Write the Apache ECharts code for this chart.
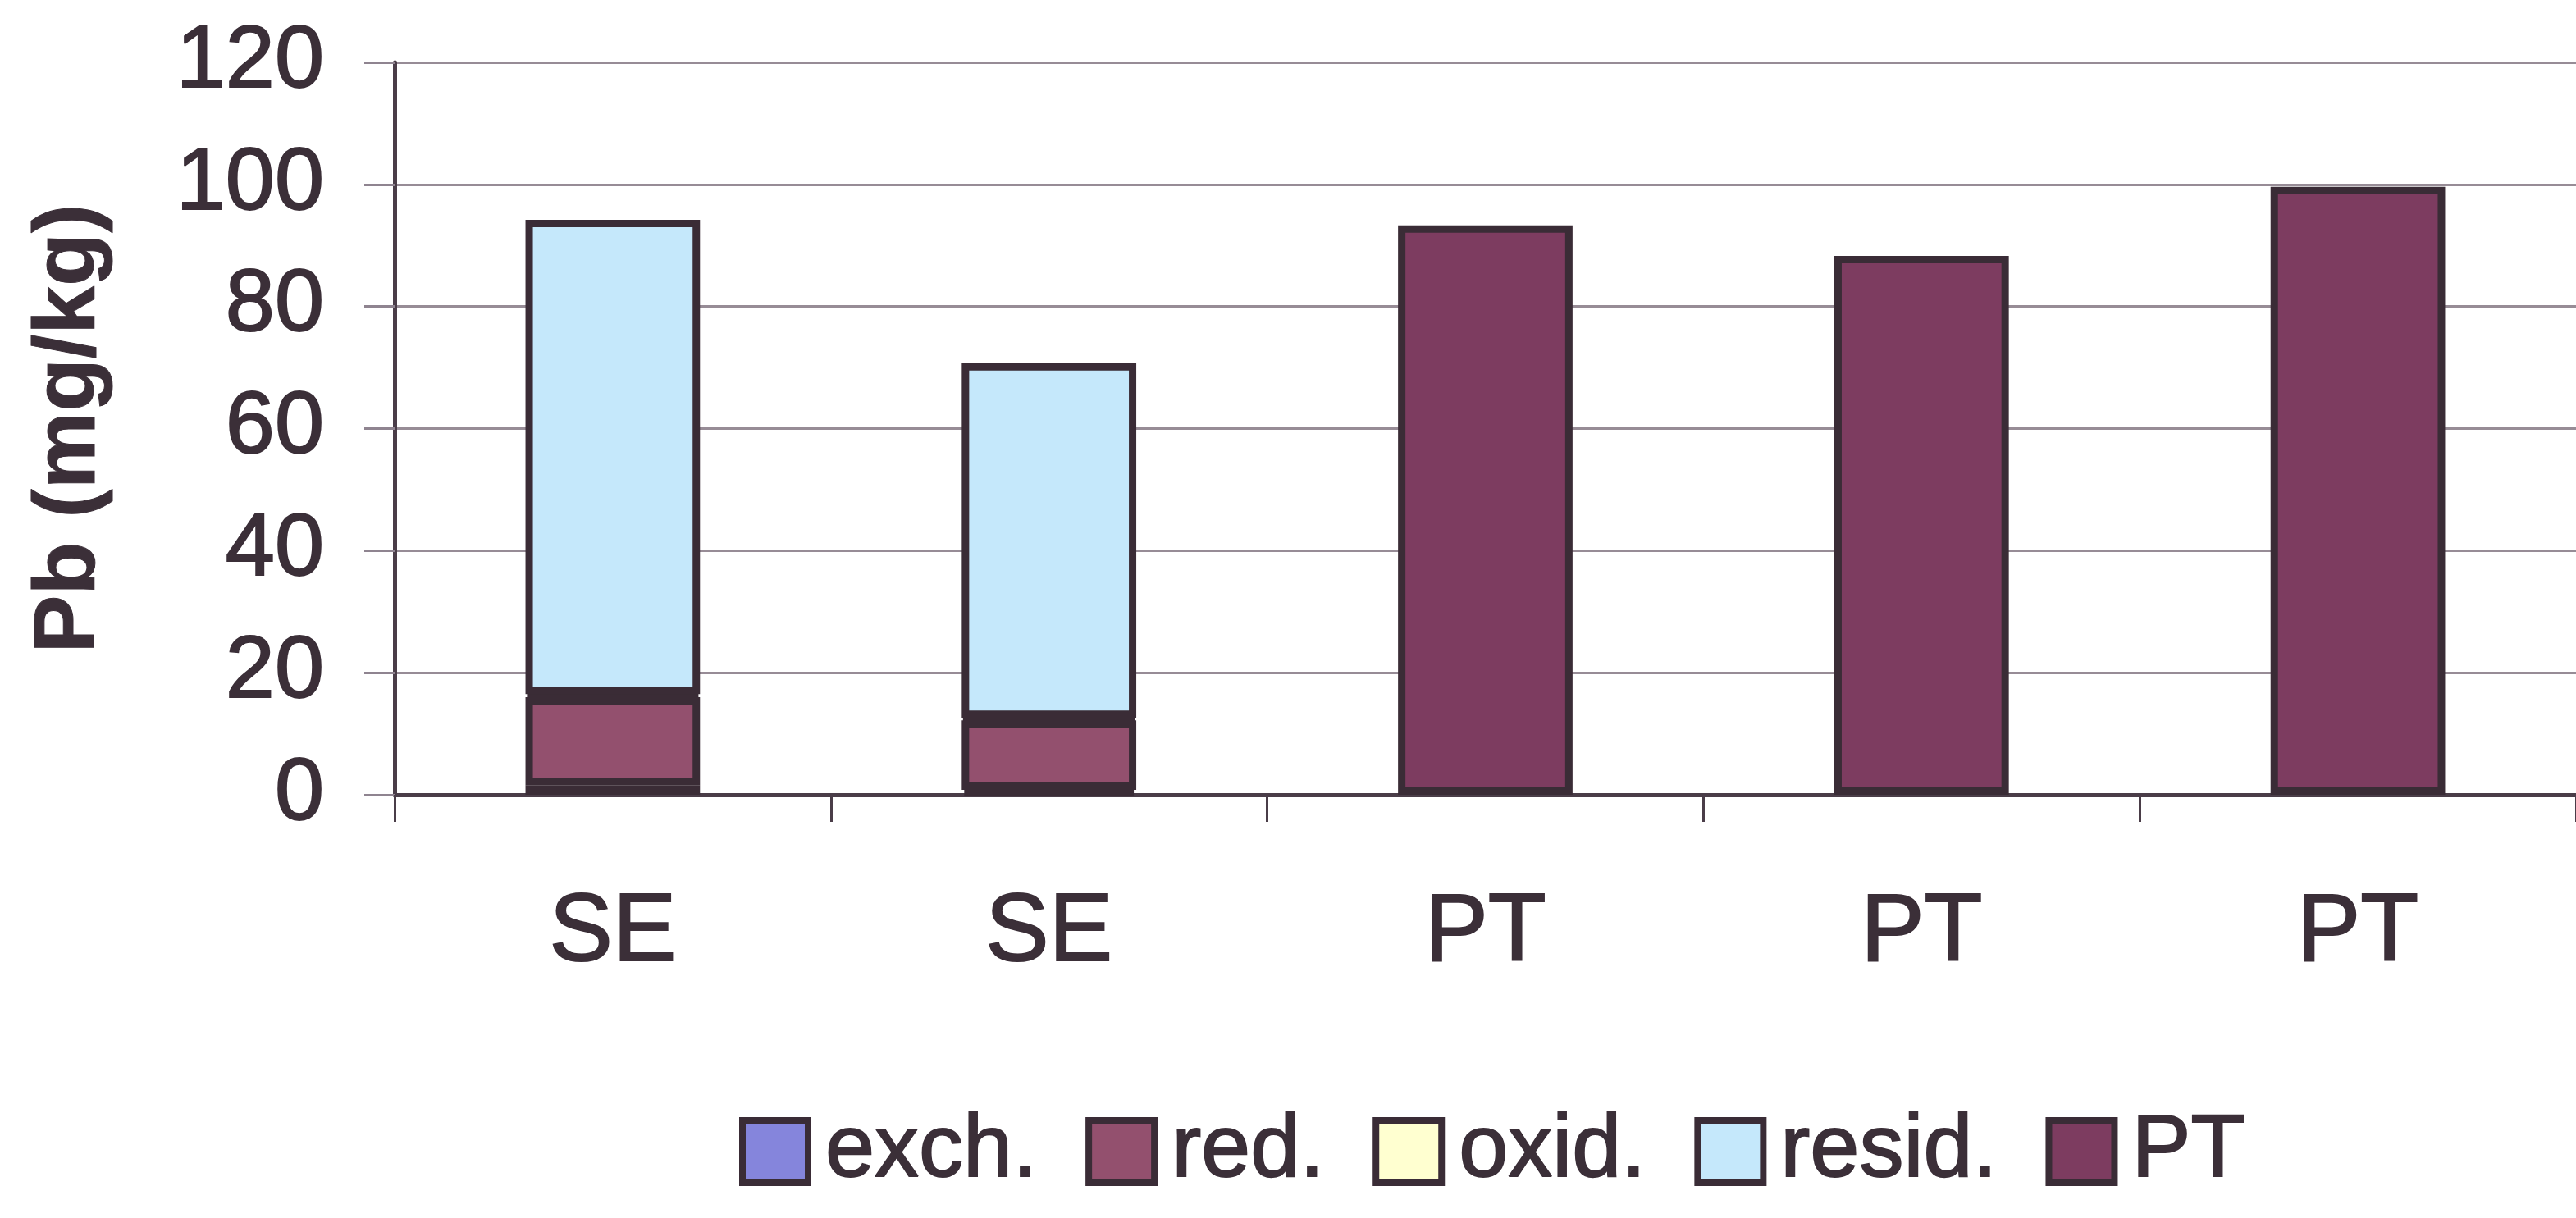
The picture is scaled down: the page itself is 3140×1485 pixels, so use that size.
<!DOCTYPE html>
<html>
<head>
<meta charset="utf-8">
<script src="https://cdn.jsdelivr.net/npm/echarts@6/dist/echarts.min.js"></script>
<style>
  html, body { margin: 0; padding: 0; background: #ffffff; }
  #chart { width: 3140px; height: 1485px; }
</style>
</head>
<body>
<div id="chart"></div>
<script>
// Pb fractions (mg/kg) per sample: sequential extraction (SE) vs. total (PT)
const categories = ['SE', 'SE', 'PT', 'PT', 'PT'];
const exchValues = [1.5, 0.8, null, null, null];
const redValues = [14.5, 11.4, null, null, null];
const oxidValues = [0.5, 0.4, null, null, null];
const residValues = [77.7, 58.1, null, null, null];
const ptValues = [null, null, 93.3, 88.3, 99.6];
const yTicks = { min: 0, max: 120, interval: 20 };

const textColor = '#3b2f38';
const edgeColor = '#3a2c36';
const fontFamily = '"Liberation Sans", Arial, sans-serif';

// slightly heavier strokes for all labels
function labelText(size, extra) {
  return Object.assign({
    color: textColor,
    fontSize: size,
    fontFamily: fontFamily,
    textBorderColor: textColor,
    textBorderWidth: 2
  }, extra || {});
}

function stackedBar(name, data, fill) {
  return {
    name: name,
    type: 'bar',
    stack: 'total',
    data: data,
    barWidth: '40%',
    itemStyle: { color: fill, borderColor: edgeColor, borderWidth: 9 },
    emphasis: { disabled: true }
  };
}

const chart = echarts.init(document.getElementById('chart'), null, { renderer: 'canvas' });
chart.setOption({
  backgroundColor: '#ffffff',
  animation: false,
  grid: { left: 481, top: 76, bottom: 516, right: -26, containLabel: false },
  legend: {
    left: 896,
    top: 1344,
    itemWidth: 80,
    itemHeight: 76,
    itemGap: 58,
    icon: 'rect',
    itemStyle: { borderColor: edgeColor, borderWidth: 8 },
    textStyle: labelText(108, { padding: [0, 0, 0, 16] }),
    data: ['exch.', 'red.', 'oxid.', 'resid.', 'PT']
  },
  xAxis: {
    type: 'category',
    data: categories,
    boundaryGap: true,
    axisLine: { lineStyle: { color: '#4a3d48', width: 5 } },
    axisTick: { show: true, length: 33, lineStyle: { color: '#4a3d48', width: 3 } },
    axisLabel: labelText(116, { margin: 112 })
  },
  yAxis: {
    type: 'value',
    min: yTicks.min,
    max: yTicks.max,
    interval: yTicks.interval,
    name: 'Pb (mg/kg)',
    nameLocation: 'middle',
    nameRotate: 90,
    nameGap: 342,
    nameTextStyle: labelText(106, { fontWeight: 'bold', textBorderWidth: 1 }),
    axisLine: { show: true, lineStyle: { color: '#4a3d48', width: 5 } },
    axisTick: { show: true, length: 37, lineStyle: { color: '#8f8490', width: 3 } },
    axisLabel: labelText(108, { margin: 86 }),
    splitLine: { show: true, lineStyle: { color: '#978c96', width: 3 } }
  },
  series: [
    stackedBar('exch.', exchValues, '#8585dc'),
    stackedBar('red.', redValues, '#93506e'),
    stackedBar('oxid.', oxidValues, '#ffffd0'),
    stackedBar('resid.', residValues, '#c5e8fb'),
    stackedBar('PT', ptValues, '#7d3c60')
  ]
});
</script>
</body>
</html>
